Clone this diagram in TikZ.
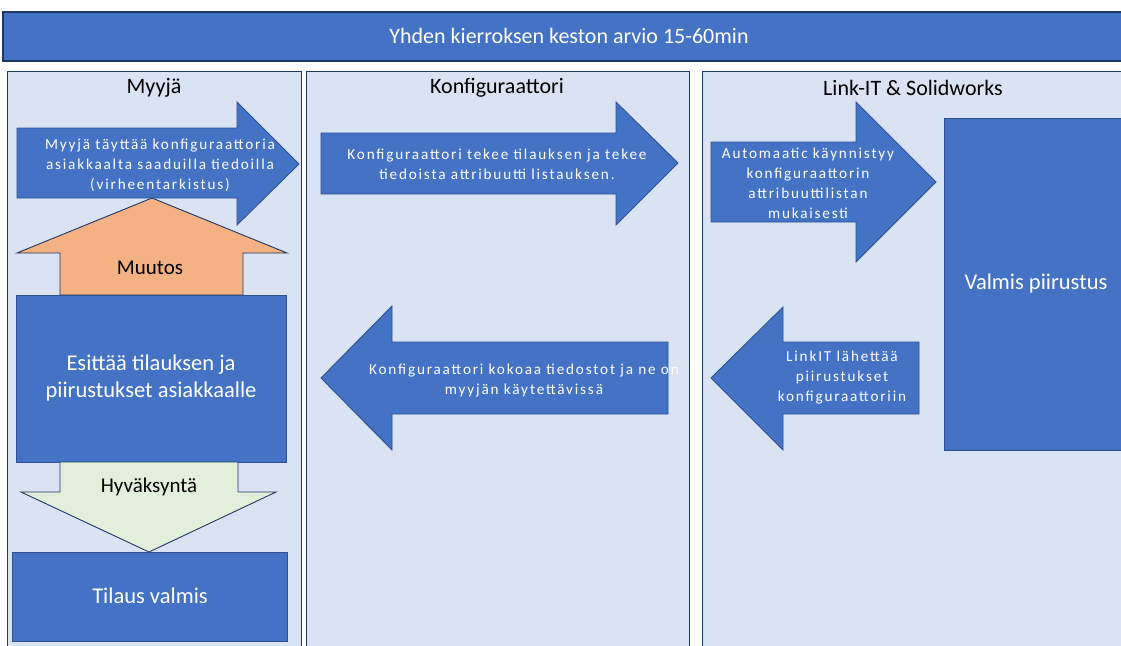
\documentclass[tikz,border=0pt]{standalone}
\usepackage{fontspec}
\setmainfont{Carlito}
\newfontfamily\arrowfont[LetterSpace=12]{Carlito}
\definecolor{shapeblue}{HTML}{4472C4}
\definecolor{shapeedge}{HTML}{2F528F}
\definecolor{lanefill}{HTML}{DAE3F3}
\definecolor{laneedge}{HTML}{1F3864}
\definecolor{orangefill}{HTML}{F4B183}
\definecolor{greenfill}{HTML}{E2EFDA}
\tikzset{
  lane/.style={fill=lanefill, draw=laneedge, line width=1pt},
  bluebox/.style={fill=shapeblue, draw=shapeedge, line width=0.9pt},
  banner/.style={fill=shapeblue, draw=laneedge, line width=1.3pt},
  orangearrow/.style={fill=orangefill, draw=laneedge, line width=0.9pt},
  greenarrow/.style={fill=greenfill, draw=laneedge, line width=0.9pt},
  arrowtext/.style={text=white, align=center, font=\arrowfont\fontsize{15.2}{20}\selectfont, inner sep=0pt},
  boxtext/.style={text=white, align=center, font=\fontsize{22.5}{27}\selectfont, inner sep=0pt},
  title/.style={text=black, font=\fontsize{22}{26}\selectfont, inner sep=0pt},
  darktext/.style={text=black, font=\fontsize{21}{25}\selectfont, inner sep=0pt},
}
\begin{document}
\begin{tikzpicture}[x=1pt,y=-1pt]
\useasboundingbox (0,0) rectangle (1121,645);
\clip (0,0) rectangle (1121,645);
\fill[white] (0,0) rectangle (1121,645);
% banner
\draw[banner] (3,12) rectangle (1135,61);
\node[text=white, font=\fontsize{22}{26}\selectfont, inner sep=0pt] (bannertext) at (569,36) {Yhden kierroksen keston arvio 15-60min};
% lanes
\draw[lane] (7,71) rectangle (301,665);
\draw[lane] (306,71) rectangle (689,665);
\draw[lane] (702,71) rectangle (1135,665);
\node[title] (t1) at (154,88) {Myyjä};
\node[title] (t2) at (497,88) {Konfiguraattori};
\node[title] (t3) at (913,88) {Link-IT \& Solidworks};
% Muutos up arrow
\draw[orangearrow] (152,198) -- (287,253) -- (243,253) -- (243,295) -- (60,295) -- (60,253) -- (17,253) -- cycle;
\node[darktext] (muutos) at (150,268) {Muutos};
% arrow 1
\draw[bluebox] (17,128) -- (237,128) -- (237,102) -- (299,164) -- (237,225) -- (237,198) -- (17,198) -- cycle;
\node[arrowtext] (a1) at (160,165) {Myyjä täyttää konfiguraattoria\\asiakkaalta saaduilla tiedoilla\\(virheentarkistus)};
% arrow 2
\draw[bluebox] (321,133) -- (616,133) -- (616,102) -- (678,163) -- (616,225) -- (616,194) -- (321,194) -- cycle;
\node[arrowtext] (a2) at (497,164) {Konfiguraattori tekee tilauksen ja tekee\\tiedoista attribuutti listauksen.};
% arrow 3
\draw[bluebox] (711,142) -- (856,142) -- (856,102) -- (936,182) -- (856,262) -- (856,222) -- (711,222) -- cycle;
\node[arrowtext] (a3) at (808,183) {Automaatic käynnistyy\\konfiguraattorin\\attribuuttilistan\\mukaisesti};
% Valmis piirustus
\draw[bluebox] (944,118) rectangle (1135,450);
\node[boxtext] (valmis) at (1036,283) {Valmis piirustus};
% arrow 4
\draw[bluebox] (321,378) -- (392,306) -- (392,342) -- (668,342) -- (668,414) -- (392,414) -- (392,450) -- cycle;
\node[arrowtext] (a4) at (524,381) {Konfiguraattori kokoaa tiedostot ja ne on\\myyjän käytettävissä};
% arrow 5
\draw[bluebox] (711,378) -- (783,307) -- (783,342) -- (919,342) -- (919,414) -- (783,414) -- (783,450) -- cycle;
\node[arrowtext] (a5) at (842,378) {LinkIT lähettää\\piirustukset\\konfiguraattoriin};
% Esittää box
\draw[bluebox] (16,295) rectangle (286,462);
\node[boxtext] (esittaa) at (151,378) {Esittää tilauksen ja\\piirustukset asiakkaalle};
% Hyväksyntä down arrow
\draw[greenarrow] (60,462) -- (238,462) -- (238,492) -- (276,492) -- (149,552) -- (21,492) -- (60,492) -- cycle;
\node[darktext] (hyv) at (149,487) {Hyväksyntä};
% Tilaus valmis
\draw[bluebox] (12,552) rectangle (287,641);
\node[boxtext] (tilaus) at (150,596) {Tilaus valmis};
\end{tikzpicture}
\end{document}
